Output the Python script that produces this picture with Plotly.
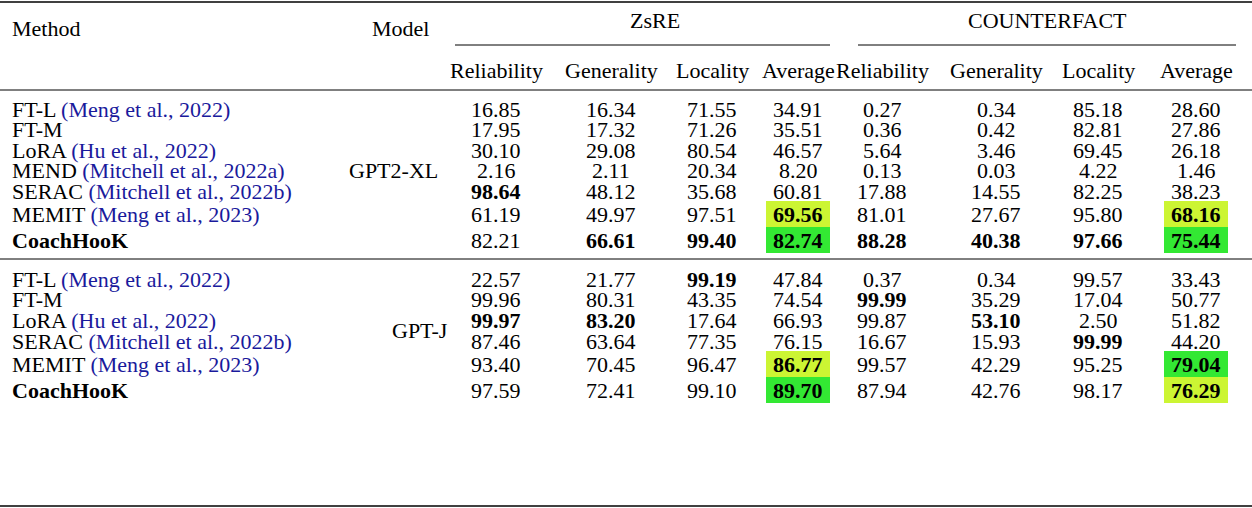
import plotly.graph_objects as go

methods = ["FT-L", "FT-M", "LoRA", "MEND", "SERAC", "MEMIT", "CoachHooK"]
citations = ["Meng et al., 2022", "", "Hu et al., 2022", "Mitchell et al., 2022a",
             "Mitchell et al., 2022b", "Meng et al., 2023", ""]
methods2 = ["FT-L", "FT-M", "LoRA", "SERAC", "MEMIT", "CoachHooK"]
citations2 = ["Meng et al., 2022", "", "Hu et al., 2022", "Mitchell et al., 2022b", "Meng et al., 2023", ""]
models = ["GPT2-XL", "GPT-J"]
groups = ["ZsRE", "COUNTERFACT"]
metrics = ["Reliability", "Generality", "Locality", "Average"]

gpt2xl = [
    ["16.85", "16.34", "71.55", "34.91", "0.27", "0.34", "85.18", "28.60"],
    ["17.95", "17.32", "71.26", "35.51", "0.36", "0.42", "82.81", "27.86"],
    ["30.10", "29.08", "80.54", "46.57", "5.64", "3.46", "69.45", "26.18"],
    ["2.16", "2.11", "20.34", "8.20", "0.13", "0.03", "4.22", "1.46"],
    ["98.64", "48.12", "35.68", "60.81", "17.88", "14.55", "82.25", "38.23"],
    ["61.19", "49.97", "97.51", "69.56", "81.01", "27.67", "95.80", "68.16"],
    ["82.21", "66.61", "99.40", "82.74", "88.28", "40.38", "97.66", "75.44"],
]
gptj = [
    ["22.57", "21.77", "99.19", "47.84", "0.37", "0.34", "99.57", "33.43"],
    ["99.96", "80.31", "43.35", "74.54", "99.99", "35.29", "17.04", "50.77"],
    ["99.97", "83.20", "17.64", "66.93", "99.87", "53.10", "2.50", "51.82"],
    ["87.46", "63.64", "77.35", "76.15", "16.67", "15.93", "99.99", "44.20"],
    ["93.40", "70.45", "96.47", "86.77", "99.57", "42.29", "95.25", "79.04"],
    ["97.59", "72.41", "99.10", "89.70", "87.94", "42.76", "98.17", "76.29"],
]
bold1 = [(4, 0), (5, 3), (5, 7), (6, 1), (6, 2), (6, 3), (6, 4), (6, 5), (6, 6), (6, 7)]
bold2 = [(0, 2), (1, 4), (2, 0), (2, 1), (2, 5), (3, 6), (4, 3), (4, 7), (5, 3), (5, 7)]
GREEN, YELLOW = "#33e833", "#ccf533"
hl1 = {(5, 3): YELLOW, (6, 3): GREEN, (5, 7): YELLOW, (6, 7): GREEN}
hl2 = {(4, 3): YELLOW, (5, 3): GREEN, (4, 7): GREEN, (5, 7): YELLOW}

col_x = [496, 611, 712, 798, 882, 996, 1098, 1196]
rows1_y = [109, 129, 150, 170, 191, 214, 240]
rows2_y = [279, 299, 320, 341, 364, 390]
BLUE = "#1a1a9c"
FONT = "Liberation Serif"
FS = 22

fig = go.Figure()
ann = []
shapes = []

def line(x0, x1, y, w=1):
    shapes.append(dict(type="line", xref="x", yref="y", x0=x0, x1=x1, y0=y, y1=y,
                       line=dict(color="black", width=w)))

line(0, 1252, 2, 1.5)
line(455, 830, 45)
line(858, 1236, 45)
line(0, 1252, 90, 1)
line(0, 1252, 259, 1)
line(0, 1252, 506, 1.5)

def txt(x, y, s, anchor="center", bold=False):
    if bold:
        s = "<b>" + s + "</b>"
    ann.append(dict(x=x, y=y, xref="x", yref="y", text=s, showarrow=False,
                    xanchor=anchor, yanchor="middle", font=dict(family=FONT, size=FS, color="black")))

txt(10, 28, "Method", "left")
txt(400, 28, "Model")
txt((col_x[0] + col_x[3]) / 2 + 8, 20, groups[0])
txt((col_x[4] + col_x[7]) / 2 + 8, 20, groups[1])
for i, m in enumerate(metrics * 2):
    txt(col_x[i], 70, m)

def block(names, cits, data, ys, bold, hl):
    for r, (n, c) in enumerate(zip(names, cits)):
        if c:
            s = n + " <span style='color:%s'>(%s)</span>" % (BLUE, c)
            txt(10, ys[r], s, "left")
        else:
            txt(10, ys[r], n, "left", bold=(n == "CoachHooK"))
        for j, v in enumerate(data[r]):
            if (r, j) in hl:
                shapes.append(dict(type="rect", xref="x", yref="y", x0=col_x[j] - 32, x1=col_x[j] + 32,
                                   y0=ys[r] - 13, y1=ys[r] + 13, fillcolor=hl[(r, j)], line=dict(width=0),
                                   layer="below"))
            txt(col_x[j], ys[r], v, bold=(r, j) in bold)

block(methods, citations, gpt2xl, rows1_y, bold1, hl1)
block(methods2, citations2, gptj, rows2_y, bold2, hl2)
txt(393, 170, models[0])
txt(420, 330, models[1])

fig.update_layout(width=1252, height=508, margin=dict(l=0, r=0, t=0, b=0),
                  plot_bgcolor="white", paper_bgcolor="white",
                  xaxis=dict(range=[0, 1252], visible=False, fixedrange=True),
                  yaxis=dict(range=[508, 0], visible=False, fixedrange=True),
                  annotations=ann, shapes=shapes, showlegend=False)
fig.write_html("out.html", config={"displayModeBar": False},
               post_script="document.body.style.margin='0';document.body.style.overflow='hidden';")
